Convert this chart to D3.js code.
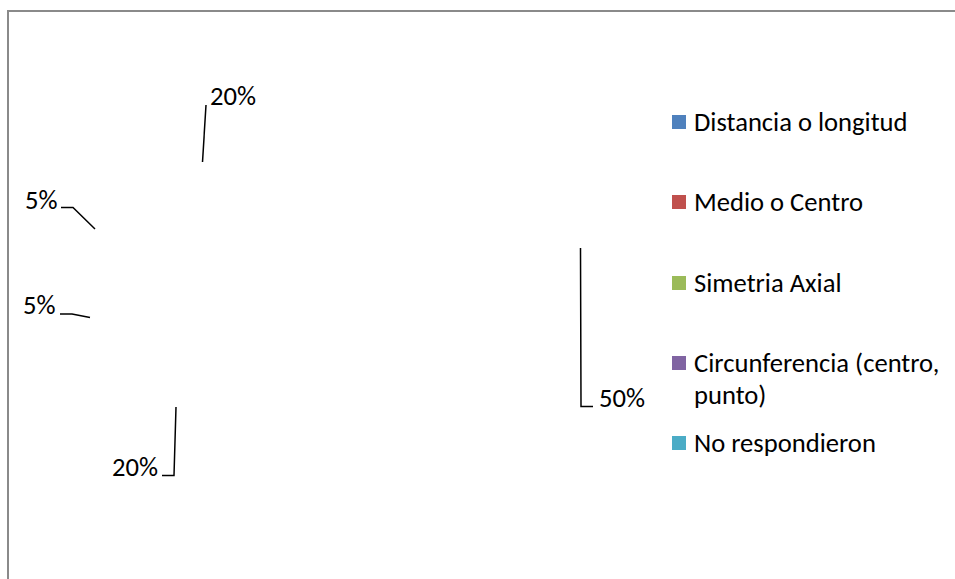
<!DOCTYPE html>
<html>
<head>
<meta charset="utf-8">
<script src="https://cdn.jsdelivr.net/npm/d3@7"></script>
<style>
  html, body { margin: 0; padding: 0; background: #fff; }
  svg { display: block; }
  text { font-family: Carlito, Lato, "Open Sans", sans-serif; fill: #000; }
</style>
</head>
<body>
<div id="chart"></div>
<script>
// ---- data ----
const categories = ["Distancia o longitud", "Medio o Centro", "Simetria Axial", "Circunferencia (centro, punto)", "No respondieron"];
const values = [50, 20, 5, 5, 20];
const colors = ["#4F81BD", "#C0504D", "#9BBB59", "#8064A2", "#4BACC6"];
const labelTexts = ["50%", "20%", "5%", "5%", "20%"];

// ---- layout (presentation only) ----
const W = 955, H = 579;
const FS = 26.6;
const pieCenter = [335, 287];
const pieRadius = 247;
// label anchor [x, baseline] and leader polyline (label end -> elbow -> slice end)
const labelAnchors = [[599, 407], [112, 476], [23, 314], [25, 209], [210, 105]];
const leaderPaths = [
  [[593, 406.5], [581, 406.5], [580.5, 248]],
  [[162, 475.5], [174, 475.5], [176, 407]],
  [[60, 314], [72, 314], [90, 317.5]],
  [[61, 207.5], [73, 207.5], [95, 229]],
  [[206, 105], [206, 105], [202.5, 162]]
];

const svg = d3.select("#chart").append("svg").attr("width", W).attr("height", H);

// chart border
svg.append("rect")
  .attr("x", 8).attr("y", 11)
  .attr("width", W + 20).attr("height", H + 20)
  .attr("fill", "#fff")
  .attr("stroke", "#8a8a8a").attr("stroke-width", 2);

// pie (slices rendered without visible fill as in reference)
const pie = d3.pie().value(d => d).sort(null);
const arc = d3.arc().innerRadius(0).outerRadius(pieRadius);
const arcs = pie(values);
const g = svg.append("g").attr("transform", `translate(${pieCenter[0]},${pieCenter[1]})`);
g.selectAll("path.slice").data(arcs).join("path")
  .attr("class", "slice")
  .attr("d", arc)
  .attr("fill", "#ffffff")
  .attr("stroke", "none");

// leader lines
const line = d3.line();
svg.selectAll("path.leader").data(leaderPaths).join("path")
  .attr("class", "leader")
  .attr("d", line)
  .attr("fill", "none")
  .attr("stroke", "#000")
  .attr("stroke-width", 1.5);

// data labels
svg.selectAll("text.lbl").data(labelTexts).join("text")
  .attr("class", "lbl")
  .attr("x", (d, i) => labelAnchors[i][0])
  .attr("y", (d, i) => labelAnchors[i][1])
  .attr("font-size", FS)
  .text(d => d);

// legend
const legendX = 672, textX = 694;
const legendRows = [122, 202, 283, 363, 443];
const lg = svg.append("g");
categories.forEach((c, i) => {
  lg.append("rect")
    .attr("x", legendX).attr("y", legendRows[i] - 7)
    .attr("width", 14).attr("height", 14)
    .attr("fill", colors[i]);
  const t = lg.append("text")
    .attr("x", textX).attr("y", legendRows[i])
    .attr("dy", "0.35em")
    .attr("font-size", FS);
  if (c.startsWith("Circunferencia")) {
    t.append("tspan").attr("x", textX).text("Circunferencia (centro,");
    t.append("tspan").attr("x", textX).attr("dy", 32).text("punto)");
  } else {
    t.text(c);
  }
});
</script>
</body>
</html>
